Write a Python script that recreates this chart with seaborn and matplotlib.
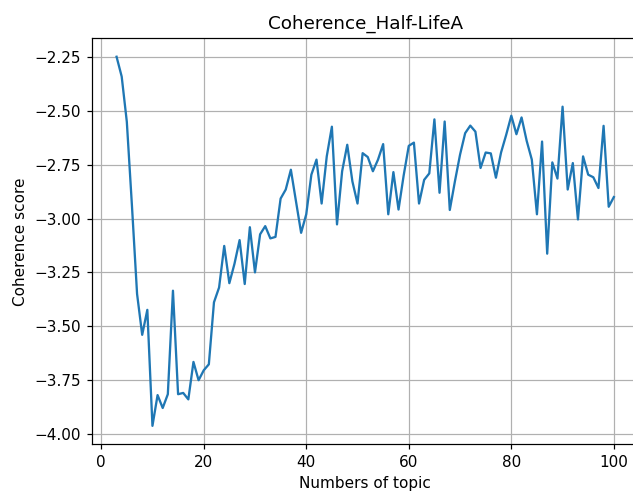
import matplotlib
matplotlib.use("Agg")
import matplotlib.pyplot as plt
import seaborn as sns
import pandas as pd

topics = list(range(3, 101))
coherence = [
    -2.248, -2.34, -2.55, -2.94, -3.35, -3.54, -3.424, -3.963, -3.82, -3.88,   # 3-12
    -3.816, -3.335, -3.816, -3.81, -3.84, -3.666, -3.751, -3.705, -3.677, -3.389,  # 13-22
    -3.32, -3.127, -3.30, -3.21, -3.10, -3.304, -3.04, -3.25, -3.073, -3.035,  # 23-32
    -3.092, -3.085, -2.907, -2.865, -2.773, -2.92, -3.066, -2.98, -2.796, -2.726,  # 33-42
    -2.93, -2.711, -2.573, -3.027, -2.78, -2.657, -2.827, -2.93, -2.696, -2.714,  # 43-52
    -2.78, -2.726, -2.654, -2.98, -2.784, -2.958, -2.80, -2.662, -2.647, -2.93,  # 53-62
    -2.82, -2.79, -2.539, -2.88, -2.549, -2.96, -2.827, -2.703, -2.603, -2.568,  # 63-72
    -2.596, -2.765, -2.693, -2.697, -2.81, -2.693, -2.611, -2.522, -2.608, -2.53,  # 73-82
    -2.639, -2.726, -2.98, -2.642, -3.163, -2.739, -2.814, -2.48, -2.865, -2.742,  # 83-92
    -3.004, -2.711, -2.796, -2.808, -2.858, -2.569, -2.945, -2.90,  # 93-100
]

df = pd.DataFrame({"topics": topics, "coherence": coherence})

DPI = 110
fig = plt.figure(figsize=(633 / DPI, 492 / DPI), dpi=DPI)
ax = fig.add_axes([91.7 / 633, (492 - 444.3) / 492, 547 / 633, 406 / 492])
sns.lineplot(data=df, x="topics", y="coherence", ax=ax, color="#1f77b4", linewidth=1.5)
ax.grid(True, color="#b0b0b0", linewidth=0.8)
ax.set_yticks([-4.0, -3.75, -3.5, -3.25, -3.0, -2.75, -2.5, -2.25])
ax.set_xticks([0, 20, 40, 60, 80, 100])
ax.set_xlim(-1.85, 104.85)
ax.set_ylim(-4.0487, -2.1623)
ax.set_title("Coherence_Half-LifeA", fontsize=12)
ax.set_xlabel("Numbers of topic")
ax.set_ylabel("Coherence score")
fig.savefig("out.png", dpi=DPI)
